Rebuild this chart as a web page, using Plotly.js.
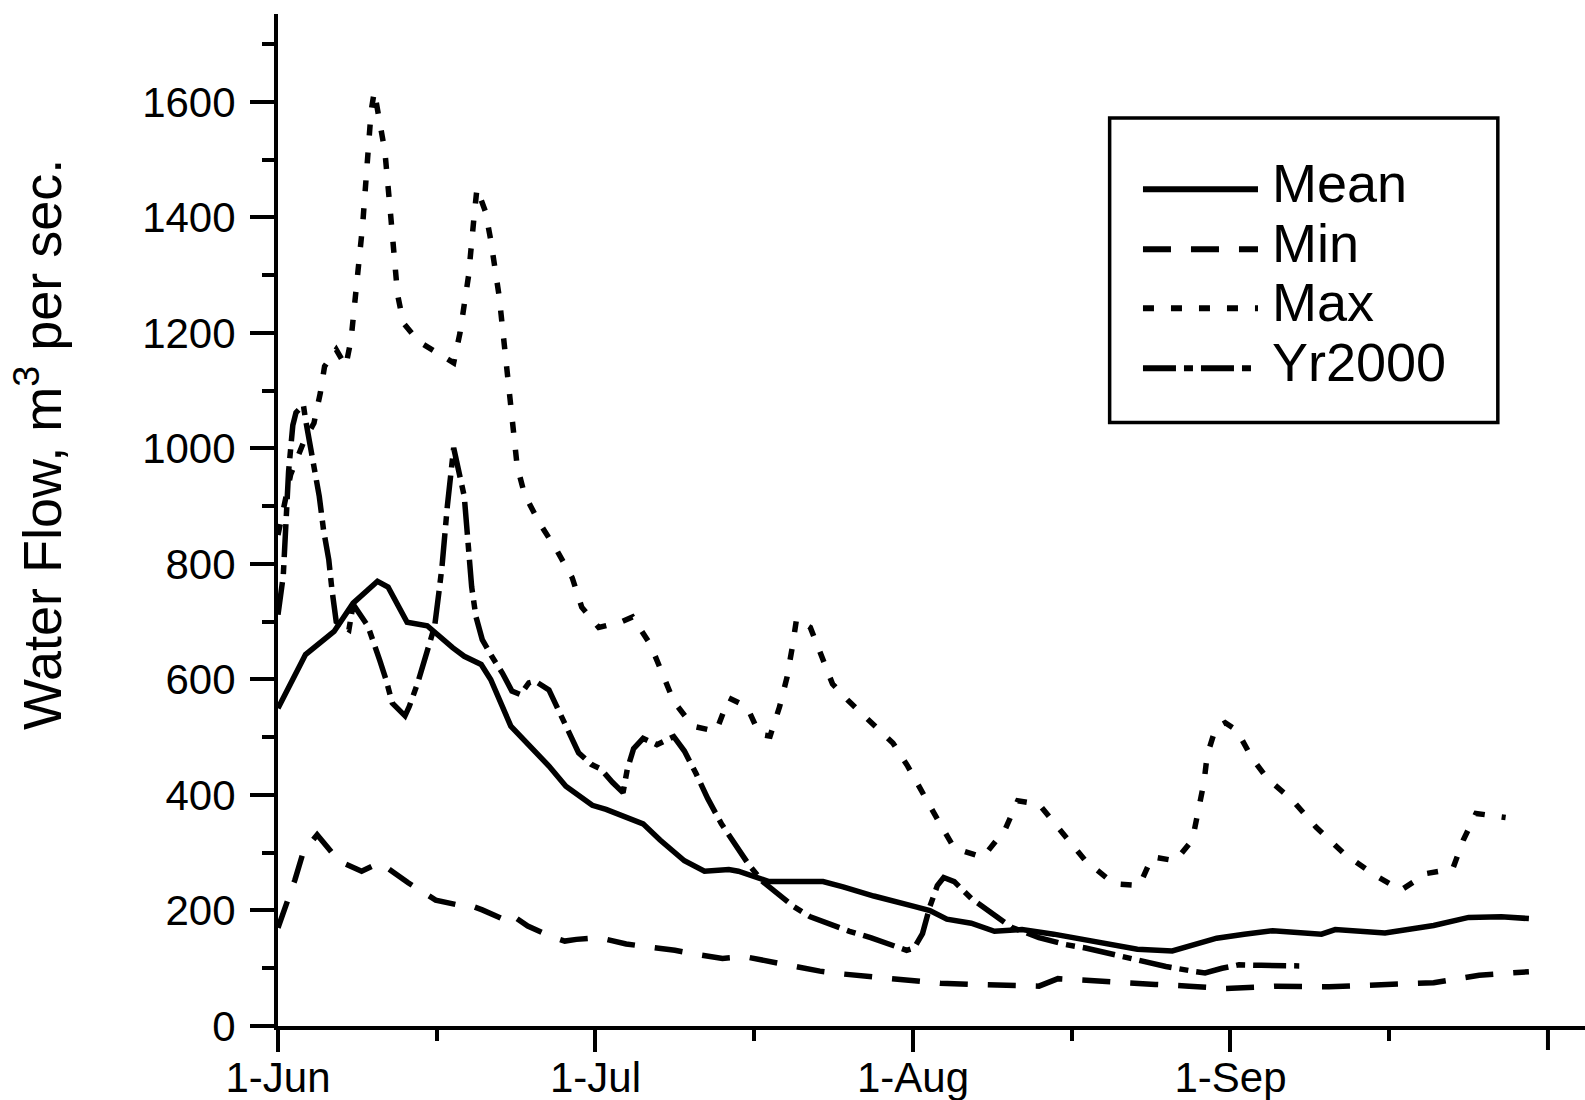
<!DOCTYPE html>
<html>
<head>
<meta charset="utf-8">
<script src="https://cdn.plot.ly/plotly-3.0.1.min.js"></script>
<style>html,body{margin:0;padding:0;background:#fff;}</style>
</head>
<body>
<div id="chart" style="width:1585px;height:1100px;"></div>
<script>
// ---- data (day offset from 1-Jun, flow in m3/s) ----
const seriesNames = ['Mean', 'Min', 'Max', 'Yr2000'];
const labelTickDays = [0, 30, 60, 90];
const tickLabels = ['1-Jun', '1-Jul', '1-Aug', '1-Sep'];
const endTickDay = 120;
const minorTickDays = [15, 45, 75, 105];

const meanDays = [0,2.6,5.3,7.1,9.4,10.4,12.2,14.1,16.5,17.6,19.2,20.1,22,23.4,25.6,27.2,29.7,31,34.5,36.1,38.4,40.3,42.6,43.5,46.4,49,51.5,53.4,56.3,60.1,61.6,63.2,65.5,67.7,70.3,73.3,75.1,78.2,81.2,84.5,87.6,88.7,91.3,94,98.6,99.9,104.6,109.2,112.5,115.6,118.2];
const meanFlow = [550,643,683,732,770,760,699,693,655,640,626,600,519,493,450,415,382,375,350,322,286,268,271,268,250,250,250,241,225,207,200,185,178,164,167,159,153,142,133,130,146,152,159,165,159,167,161,174,188,189,186];

const minDays = [0,1.6,2.4,3.7,5.8,7.9,9.5,10.3,12.3,14.9,16.9,18,19.3,21.4,22,23.6,25.8,27.1,28.2,30.3,32.9,35,37.5,39.6,42,44.1,46.7,49,51.2,53.4,56,57.8,60.4,62.6,65.5,68.7,71.9,73.7,76.1,79.8,82.9,86.1,89.5,92.3,94.3,99.3,104.2,109.2,113.5,118.2];
const minFlow = [170,253,302,331,285,268,282,274,248,218,210,210,201,184,193,173,155,147,150,153,142,138,131,124,117,120,110,103,95,90,85,81,77,74,72,70,69,82,80,76,72,69,65,67,69,68,72,75,88,94];

const maxDays = [0,1.2,2.4,3.4,4.0,4.4,5.5,6.4,6.9,7.5,8.0,8.4,8.8,9.1,9.6,10.1,10.6,11.0,11.3,11.85,13.3,15.35,16.6,17.2,17.55,18.0,18.5,18.8,19.6,20.1,20.9,21.5,22.0,22.6,23.3,24.7,26.3,27.8,28.7,30.3,32.5,33.5,35.2,36.2,37.4,39.2,41.4,42.6,44.3,45.5,46.5,47.4,48.1,48.6,49.0,50.3,51.3,52.4,53.9,56.0,58.1,59.5,60.9,62.4,63.9,66.6,68.7,69.9,71.9,74.0,76.3,79.0,81.4,82.6,84.8,86.4,87.0,87.5,87.8,88.6,89.5,90.6,92.0,93.5,95.8,98.1,100.7,103.4,106.1,108.5,111.0,112.0,113.2,116.0];
const maxFlow = [850,955,1010,1044,1096,1142,1171,1142,1188,1289,1387,1486,1584,1618,1563,1514,1413,1315,1266,1217,1185,1162,1148,1200,1249,1298,1396,1450,1410,1361,1263,1165,1067,969,920,871,825,776,725,690,700,708,660,614,562,519,510,568,553,505,502,553,604,656,705,690,643,592,563,525,490,450,402,355,308,292,340,390,384,336,286,246,243,293,286,322,372,422,469,516,525,512,465,428,392,344,299,264,235,264,272,322,368,361];

const yr2000Days = [0,0.5,1.0,1.4,1.7,2.4,2.6,3.1,3.9,4.3,4.8,5.1,5.5,6.7,7.1,8.5,9.1,9.6,10.2,10.8,12.0,12.4,13.2,13.8,14.3,14.8,15.2,15.5,16.0,16.6,17.6,18.0,18.3,18.7,19.3,20.2,21.2,22.1,22.9,23.7,24.3,25.6,26.5,27.5,28.4,29.6,30.5,31.6,32.6,33.0,33.6,34.5,35.8,37.4,38.4,39.5,40.6,41.9,43.2,44.5,45.8,47.2,48.7,50.3,52.2,54.0,56.0,57.9,59.4,60.1,60.9,61.6,62.3,62.9,63.9,65.5,67.1,69.3,71.9,74.4,76.3,78.8,81.4,83.9,86.4,87.6,89.2,90.8,92.9,96.5];
const yr2000Flow = [712,780,960,1040,1062,1075,1050,998,917,859,807,755,700,686,730,692,663,634,600,559,537,553,594,629,663,692,750,796,900,1001,917,820,760,709,669,640,611,580,574,594,597,582,548,507,473,453,445,422,404,444,480,498,487,501,476,437,394,350,315,279,250,228,207,189,175,164,153,142,131,135,160,207,243,257,250,221,200,171,153,141,135,124,113,103,95,92,100,106,105,104];

// ---- styles ----
const FONT = '"Liberation Sans", Arial, Helvetica, sans-serif';
const dashes = ['solid', '28px,20px', '11px,17px', '33px,8px,9px,8px'];
const LW = 5.5;

const xs = [meanDays, minDays, maxDays, yr2000Days];
const ys = [meanFlow, minFlow, maxFlow, yr2000Flow];

const traces = seriesNames.map((n, i) => ({
  type: 'scatter', mode: 'lines', name: n,
  x: xs[i], y: ys[i],
  line: {color: 'black', width: LW, dash: dashes[i]},
  hoverinfo: 'skip'
}));

// legend drawn as shapes + annotations (paper coords)
const legX0 = 0.6363, legX1 = 0.9333, legY0 = 0.5964, legY1 = 0.8973;
const sampX0 = 0.6618, sampX1 = 0.7498, textX = 0.7590;
const rowY = [0.8268, 0.7675, 0.7093, 0.6499];

const shapes = [{
  type: 'rect', xref: 'paper', yref: 'paper',
  x0: legX0, x1: legX1, y0: legY0, y1: legY1,
  line: {color: 'black', width: 3.5}, fillcolor: 'white', layer: 'above'
}, {
  // major tick at the end of the x axis (unlabelled)
  type: 'line', xref: 'x', yref: 'paper',
  x0: endTickDay, x1: endTickDay, y0: -0.0022, y1: -24 / 1012,
  line: {color: 'black', width: 4}
}];
const annotations = [];
seriesNames.forEach((n, i) => {
  shapes.push({
    type: 'line', xref: 'paper', yref: 'paper',
    x0: sampX0, x1: sampX1, y0: rowY[i], y1: rowY[i],
    line: {color: 'black', width: 6, dash: dashes[i]}, layer: 'above'
  });
  annotations.push({
    xref: 'paper', yref: 'paper', x: textX, y: rowY[i] + 0.006,
    xanchor: 'left', yanchor: 'middle', showarrow: false,
    text: n, font: {family: FONT, size: 54, color: 'black'}
  });
});
annotations.push({
  xref: 'paper', yref: 'paper', x: -0.183, y: 0.575,
  xanchor: 'center', yanchor: 'middle', showarrow: false, textangle: -90,
  text: 'Water Flow, m<sup>3</sup> per sec.',
  font: {family: FONT, size: 54, color: 'black'}
});

const layout = {
  width: 1585, height: 1100,
  margin: {l: 278, r: 0, t: 14, b: 74, pad: 0},
  paper_bgcolor: 'white', plot_bgcolor: 'white',
  showlegend: false,
  font: {family: FONT, color: 'black'},
  xaxis: {
    range: [0, 123.5], showgrid: false, zeroline: false,
    showline: true, linewidth: 4, linecolor: 'black',
    ticks: 'outside', ticklen: 22, tickwidth: 4, tickcolor: 'black',
    tickmode: 'array', tickvals: labelTickDays, ticktext: tickLabels,
    tickfont: {family: FONT, size: 42, color: 'black'},
    ticklabelstandoff: -10,
    minor: {tickmode: 'array', tickvals: minorTickDays, ticks: 'outside',
            ticklen: 11, tickwidth: 4, tickcolor: 'black'}
  },
  yaxis: {
    range: [0, 1752], showgrid: false, zeroline: false,
    showline: true, linewidth: 4, linecolor: 'black',
    ticks: 'outside', ticklen: 24, tickwidth: 4, tickcolor: 'black',
    tickmode: 'linear', tick0: 0, dtick: 200,
    tickfont: {family: FONT, size: 42, color: 'black'},
    ticklabelstandoff: 6,
    minor: {tick0: 0, dtick: 100, ticks: 'outside', ticklen: 12,
            tickwidth: 4, tickcolor: 'black'}
  },
  shapes: shapes,
  annotations: annotations
};

Plotly.newPlot('chart', traces, layout, {staticPlot: true, displayModeBar: false});
</script>
</body>
</html>
